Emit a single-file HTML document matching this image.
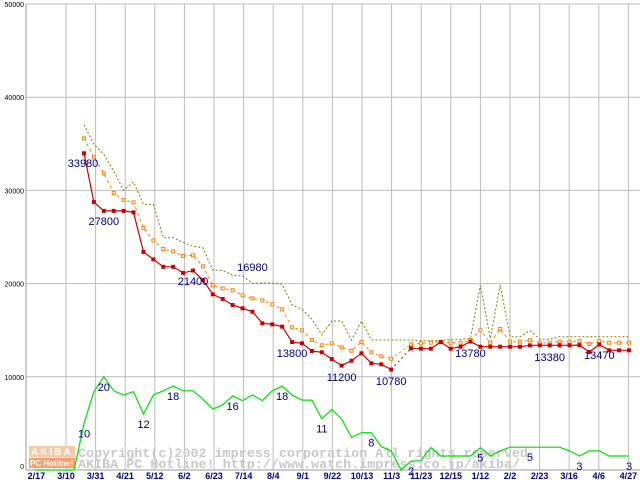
<!DOCTYPE html>
<html><head><meta charset="utf-8"><style>
body{margin:0;background:#fff;}
svg{display:block;font-family:"Liberation Sans",sans-serif;}
</style></head><body>
<svg id="chart" width="640" height="480"></svg>
<script>
const xLabels=["2/17","3/10","3/31","4/21","5/12","6/2","6/23","7/14","8/4","9/1","9/22","10/13","11/3","11/23","12/15","1/12","2/2","2/23","3/16","4/6","4/27"];
const yTicks=[0,10000,20000,30000,40000,50000];
const minPrice=[33980,28750,27800,27800,27800,27650,23400,22600,21800,21800,21150,21400,20400,18850,18350,17700,17350,16980,15740,15630,15380,13730,13590,12770,12630,11900,11200,11730,12520,11450,11340,10780,null,13060,13020,13020,13730,13020,13230,13780,13230,13230,13230,13230,13230,13380,13380,13380,13380,13380,13400,12660,13470,12840,12840,12840];
const avgPrice=[35590,33550,31830,29720,28970,28720,25970,24640,23710,23460,22960,23030,21850,19810,19490,19280,18740,18420,18200,17780,17240,15310,14990,13950,13380,13590,13160,12800,13730,12630,12200,11940,null,13490,13590,13660,13770,13660,13660,13950,14990,13660,15130,13770,13770,13920,13660,13660,13770,13770,13840,13520,13840,13660,13660,13660];
const maxPrice=[37050,34950,33870,32080,30010,30900,28510,28510,24930,24930,24430,24000,23850,21460,21420,20890,20820,20030,20060,20060,19920,17700,17240,16200,14480,15990,15990,13950,15990,13950,13950,13950,13950,13950,13870,13870,13870,14020,14020,14130,19850,14130,19850,14300,14300,14950,14020,14020,14300,14300,14300,14300,14300,14300,14300,14300];
const shopCount=[0,0,0,0,0,10,16.8,20,17,16.1,16.8,12,16.1,17,18,17,17,15.2,13.1,14,15.9,14.9,16.1,14.9,17,18,16.1,15,15,11,13,11,7,8,8,5,4.1,0,1.9,2,4.8,3,3,3,3,4.8,3,4.1,4.9,4.9,4.9,4.9,4.9,4.9,4.1,3,4.1,4.1,3,3,3];
const priceLabels=[["33980",0,162],["27800",2,220],["21400",11,280],["16980",17,266],["13800",21,352],["11200",26,376],["10780",31,380],["13780",39,352],["13380",47,356],["13470",52,354]];
const countLabels=[["10",5],["20",7],["12",11],["18",14],["16",20],["18",25],["11",29],["8",34],["2",38],["5",45],["5",50],["3",55],["3",60]];

const NS="http://www.w3.org/2000/svg";
const svg=document.getElementById('chart');
function el(t,a,p){const e=document.createElementNS(NS,t);for(const k in a)e.setAttribute(k,a[k]);(p||svg).appendChild(e);return e;}
const X0=26,Y0=470,PT=4;
const yS=v=>Y0-v*(Y0-PT)/50000;
const xP=i=>84+i*545/55;
const xC=i=>xP(i-5);
const yC=c=>yS(c*500);
const xG=k=>36.4+k*29.6;

const grid=el('g',{});


yTicks.forEach(v=>{el('line',{x1:X0,x2:640,y1:yS(v),y2:yS(v),stroke:'#bbb','stroke-width':1},grid);
 const t=el('text',{x:X0-2,y:yS(v)+(v===0?-1:3),'text-anchor':'end','font-size':7,fill:'#000'});t.textContent=v;
 
 });
xLabels.forEach((s,k)=>{if(k>0)el('line',{x1:xG(k),x2:xG(k),y1:PT,y2:Y0,stroke:'#bbb','stroke-width':1},grid);
 const t=el('text',{x:xG(k),y:479,'text-anchor':'middle','font-size':9,'font-weight':'bold',fill:'#000080'});t.textContent=s;
 
 });
el('line',{x1:X0,x2:X0,y1:PT,y2:Y0,stroke:'#999'});
el('line',{x1:X0,x2:640,y1:Y0,y2:Y0,stroke:'#999'});

const wm=el('g',{});


el('rect',{x:29,y:446,width:46,height:11,fill:'#f8c8a8'},wm);
el('rect',{x:29,y:458,width:46,height:10,fill:'#f4a070'},wm);
let w1=el('text',{x:31,y:455,'font-size':10,'font-weight':'bold',fill:'#fff','letter-spacing':'2'},wm);w1.textContent='AKIBA';
let w2=el('text',{x:30,y:466,'font-size':8,'font-weight':'bold',fill:'#fff'},wm);w2.textContent='PC Hotline!';
let w3=el('text',{x:78,y:457,'font-size':13,fill:'#c8c8c8','font-family':'Liberation Mono,monospace','font-weight':'bold',textLength:458,lengthAdjust:'spacingAndGlyphs'},wm);w3.textContent='Copyright(c)2002 impress corporation All rights reserved.';
let w4=el('text',{x:78,y:468,'font-size':13,fill:'#c8c8c8','font-family':'Liberation Mono,monospace','font-weight':'bold',textLength:442,lengthAdjust:'spacingAndGlyphs'},wm);w4.textContent='AKIBA PC Hotline!  http://www.watch.impress.co.jp/akiba/';

function segs(arr,xf,yf){let d='',pen=false,gaps=[],last=null;
 arr.forEach((v,i)=>{if(v==null){pen=false;return;}
  if(!pen&&last!=null&&last.i<i-1)gaps.push([xf(last.i),yf(last.v),xf(i),yf(v)]);
  d+=(pen?'L':'M')+xf(i).toFixed(1)+' '+yf(v).toFixed(1);pen=true;last={i,v};});
 return {d,gaps};}

let s=segs(maxPrice,xP,yS);
let p=el('path',{d:s.d,fill:'none',stroke:'#808000','stroke-width':1,'stroke-dasharray':'2 2'});


s=segs(avgPrice,xP,yS);
p=el('path',{d:s.d,fill:'none',stroke:'#ff8000','stroke-width':1,'stroke-dasharray':'3 3'});


s.gaps.forEach(g=>el('line',{x1:g[0],y1:g[1],x2:g[2],y2:g[3],stroke:'#ff8000','stroke-dasharray':'2 3'}));
avgPrice.forEach((v,i)=>{if(v==null)return;const r=el('rect',{x:xP(i)-1.5,y:yS(v)-1.5,width:3,height:3,fill:'#fff',stroke:'#ff8000'});
 
 });
s=segs(minPrice,xP,yS);
p=el('path',{d:s.d,fill:'none',stroke:'#cc0000','stroke-width':1.2});


s.gaps.forEach(g=>el('line',{x1:g[0],y1:g[1],x2:g[2],y2:g[3],stroke:'#cc0000','stroke-dasharray':'2 3'}));
minPrice.forEach((v,i)=>{if(v==null)return;const r=el('rect',{x:xP(i)-2,y:yS(v)-2,width:4,height:4,fill:'#cc0000'});
 
 });
s=segs(shopCount,xC,yC);
p=el('path',{d:s.d,fill:'none',stroke:'#00e000','stroke-width':1.2});



priceLabels.forEach(l=>{const t=el('text',{x:xP(l[1])+(l[1]===0?-1:0),y:l[2]+5,'text-anchor':'middle','font-size':11,fill:'#000080'});t.textContent=l[0];
 
 });
countLabels.forEach(l=>{const i=l[1];const t=el('text',{x:xC(i),y:yC(shopCount[i])+14,'text-anchor':'middle','font-size':11,fill:'#000080'});t.textContent=l[0];
 
 });
</script>
</body></html>
